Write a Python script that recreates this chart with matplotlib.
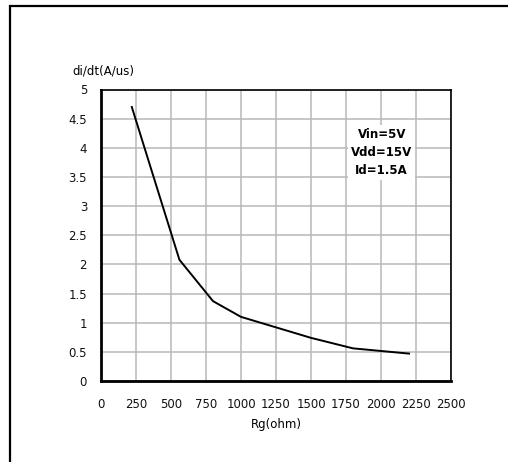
import matplotlib
matplotlib.use("Agg")
import matplotlib.pyplot as plt
from matplotlib.patches import Rectangle

rg = [220, 560, 800, 1000, 1500, 1800, 2200]
didt = [4.70, 2.08, 1.37, 1.10, 0.74, 0.56, 0.47]
xticks = [0, 250, 500, 750, 1000, 1250, 1500, 1750, 2000, 2250, 2500]
yticks = [0, 0.5, 1, 1.5, 2, 2.5, 3, 3.5, 4, 4.5, 5]
ytick_labels = ["0", "0.5", "1", "1.5", "2", "2.5", "3", "3.5", "4", "4.5", "5"]
conditions = ["Vin=5V", "Vdd=15V", "Id=1.5A"]

plt.rcParams['font.family'] = ['DejaVu Sans']
fig = plt.figure(figsize=(5.08, 4.62), dpi=100)

# outer frame (extends beyond right/bottom edges)
fig.patches.append(Rectangle((10/508, -0.1), 1.2, (462-6)/462 + 0.1,
                             transform=fig.transFigure, fill=False,
                             edgecolor='black', linewidth=1.6, zorder=0))

ax = fig.add_axes([101/508, 1 - 381/462, 350/508, 291.5/462])
ax.plot(rg, didt, color='black', linewidth=1.4, zorder=3)
ax.set_xlim(0, 2500)
ax.set_ylim(0, 5)
ax.set_xticks(xticks)
ax.set_xticklabels([str(v) for v in xticks])
ax.set_yticks(yticks)
ax.set_yticklabels(ytick_labels)
ax.grid(True, color='#b8b8b8', linewidth=1.1)
ax.set_axisbelow(True)
ax.tick_params(axis='both', length=0, labelsize=8.5, colors='#111111')
ax.tick_params(axis='x', pad=12)
ax.tick_params(axis='y', pad=10)
for s in ['left', 'bottom']:
    ax.spines[s].set_linewidth(2.0)
for s in ['top', 'right']:
    ax.spines[s].set_linewidth(1.2)

ax.set_xlabel("Rg(ohm)", fontsize=8.5, labelpad=5)
fig.text(72/508, 1 - 71/462, "di/dt(A/us)", fontsize=8.5, ha='left', va='center')

ax.text(2005, 3.92, "\n".join(conditions), fontsize=8.5, fontweight='bold',
        ha='center', va='center', linespacing=1.5,
        bbox=dict(facecolor='white', edgecolor='none', pad=2), zorder=4)

fig.savefig("out.png", dpi=100)
